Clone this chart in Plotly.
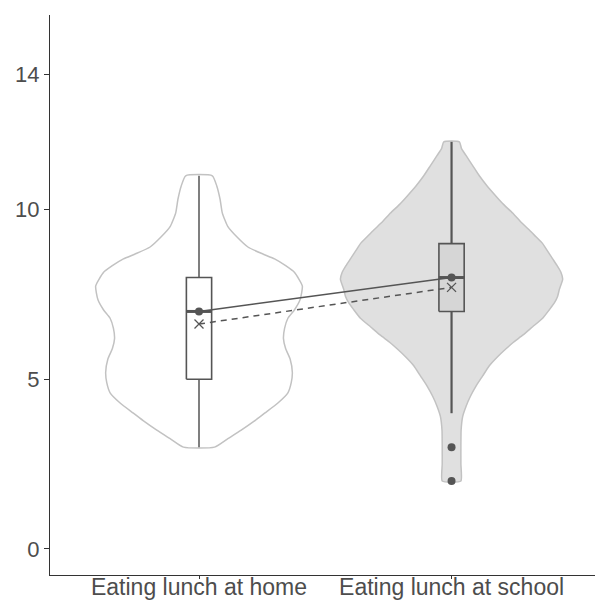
import plotly.graph_objects as go

# Group labels and positions on the x axis
groups = ["Eating lunch at home", "Eating lunch at school"]
group_pos = [1, 2]

# Kernel density profiles (value, relative density) for each group
home_dens_y = [3.0, 3.25, 3.5, 3.75, 4.0, 4.3, 4.6, 4.9, 5.2, 5.6, 5.9, 6.2, 6.5, 6.8, 7.05, 7.35,
               7.75, 8.15, 8.35, 8.55, 8.7, 8.9, 9.2, 9.5, 9.9, 10.3, 10.7, 11.0]
home_dens = [0.14, 0.26, 0.38, 0.49, 0.59, 0.71, 0.80, 0.83, 0.84, 0.82, 0.78, 0.76, 0.77, 0.80,
             0.86, 0.91, 0.93, 0.86, 0.78, 0.68, 0.57, 0.44, 0.34, 0.26, 0.21, 0.19, 0.16, 0.12]

school_dens_y = [2.0, 2.5, 3.0, 3.5, 3.9, 4.2, 4.5, 4.8, 5.1, 5.4, 5.65, 5.9, 6.1, 6.3, 6.55, 6.8,
                 7.05, 7.25, 7.45, 7.65, 7.95, 8.15, 8.35, 8.55, 8.8, 9.0, 9.2, 9.4, 9.65, 9.9,
                 10.15, 10.4, 10.7, 11.0, 11.3, 11.6, 11.8, 12.0]
school_dens = [0.084, 0.084, 0.084, 0.086, 0.10, 0.13, 0.17, 0.22, 0.28, 0.34, 0.41, 0.49, 0.56,
               0.64, 0.73, 0.82, 0.88, 0.925, 0.955, 0.97, 1.0, 0.985, 0.95, 0.91, 0.86, 0.82,
               0.76, 0.70, 0.62, 0.55, 0.47, 0.40, 0.32, 0.25, 0.19, 0.13, 0.09, 0.07]

# Box plot summaries
q1 = [5, 7]
medians = [7, 8]
q3 = [8, 9]
lower_whisker = [3, 4]
upper_whisker = [11, 12]
means = [6.63, 7.71]
school_outliers = [3, 2]

y_ticks = [0, 5, 10, 14]

VIOLIN_HALF = 0.44   # half-width of the widest violin, in x units
BOX_WIDTH = 0.1
DARK = "#555555"
OUTLINE = "#c2c2c2"
BOX_FILLS = ["#ffffff", "#d6d6d6"]


def violin_outline(center, ys, dens):
    left_x = [center - VIOLIN_HALF * d for d in dens]
    right_x = [center + VIOLIN_HALF * d for d in dens]
    xs = left_x + right_x[::-1] + [left_x[0]]
    yy = list(ys) + list(ys)[::-1] + [ys[0]]
    return xs, yy


def seg(xs, ys, width, color=DARK, dash=None):
    return go.Scatter(
        x=xs, y=ys, mode="lines",
        line=dict(color=color, width=width, dash=dash),
        hoverinfo="skip", showlegend=False,
    )


fig = go.Figure()

for center, ys, dens, fill in [
    (group_pos[0], home_dens_y, home_dens, "#ffffff"),
    (group_pos[1], school_dens_y, school_dens, "#e0e0e0"),
]:
    vx, vy = violin_outline(center, ys, dens)
    fig.add_trace(go.Scatter(
        x=vx, y=vy, mode="lines", fill="toself", fillcolor=fill,
        line=dict(color=OUTLINE, width=1.5, shape="spline", smoothing=0.5),
        hoverinfo="skip", showlegend=False,
    ))

# Box plots: whiskers, box body, median bar
whisker_widths = [1.5, 2.2]
for i in range(2):
    c = group_pos[i]
    lo, hi = c - BOX_WIDTH / 2, c + BOX_WIDTH / 2
    fig.add_trace(seg([c, c], [lower_whisker[i], q1[i]], whisker_widths[i]))
    fig.add_trace(seg([c, c], [q3[i], upper_whisker[i]], whisker_widths[i]))
    fig.add_trace(go.Scatter(
        x=[lo, hi, hi, lo, lo], y=[q1[i], q1[i], q3[i], q3[i], q1[i]],
        mode="lines", fill="toself", fillcolor=BOX_FILLS[i],
        line=dict(color=DARK, width=1.6), hoverinfo="skip", showlegend=False,
    ))
    fig.add_trace(seg([lo, hi], [medians[i], medians[i]], 3))

# Lines connecting medians and means
fig.add_trace(go.Scatter(
    x=group_pos, y=medians, mode="lines+markers",
    line=dict(color=DARK, width=1.6),
    marker=dict(color=DARK, size=8, symbol="circle"),
    hoverinfo="skip", showlegend=False,
))
fig.add_trace(seg(group_pos, means, 1.5, dash="6px,5px"))
fig.add_trace(go.Scatter(
    x=group_pos, y=means, mode="markers",
    marker=dict(symbol="x-thin", size=9, line=dict(color=DARK, width=1.3)),
    hoverinfo="skip", showlegend=False,
))

# Outliers
fig.add_trace(go.Scatter(
    x=[group_pos[1]] * len(school_outliers), y=school_outliers, mode="markers",
    marker=dict(color=DARK, size=8, symbol="circle"),
    hoverinfo="skip", showlegend=False,
))

axis_font = dict(family="Liberation Sans, Arial, sans-serif", size=22, color="#4d4d4d")
x_font = dict(family="Liberation Sans, Arial, sans-serif", size=23, color="#4d4d4d")

fig.update_layout(
    width=595, height=602,
    margin=dict(l=50, r=0, t=15, b=27),
    plot_bgcolor="white", paper_bgcolor="white",
    xaxis=dict(
        range=[0.41, 2.568], tickvals=group_pos, ticktext=groups,
        showgrid=False, zeroline=False, showline=True, linecolor="#333333", linewidth=1.3,
        ticks="outside", ticklen=3, tickcolor="#333333", tickwidth=1.3,
        tickfont=x_font, automargin=False, ticklabelstandoff=-12,
    ),
    yaxis=dict(
        range=[-0.77, 15.74], tickvals=y_ticks,
        showgrid=False, zeroline=False, showline=True, linecolor="#333333", linewidth=1.3,
        ticks="outside", ticklen=5, tickcolor="#333333", tickwidth=1.3,
        tickfont=axis_font, automargin=False,
    ),
)

fig.write_html("out.html")
